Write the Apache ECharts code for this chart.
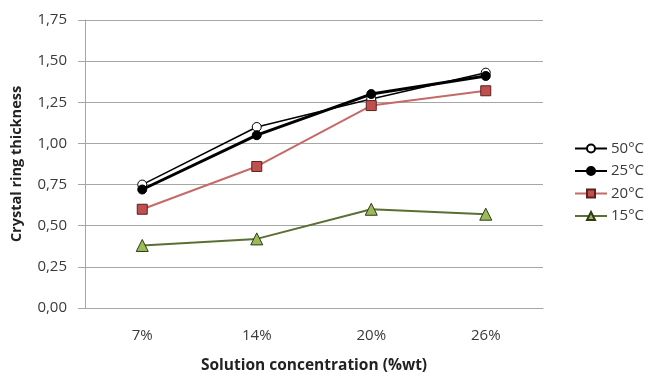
<!DOCTYPE html>
<html>
<head>
<meta charset="utf-8">
<script src="https://cdn.jsdelivr.net/npm/echarts@6/dist/echarts.min.js"></script>
<style>
  html, body { margin: 0; padding: 0; background: #fff; }
  #chart { width: 652px; height: 373px; }
</style>
</head>
<body>
<div id="chart"></div>
<script>
// Solution concentrations on the x axis
const concentrations = ['7%', '14%', '20%', '26%'];

// Crystal ring thickness per temperature
const t50 = [0.75, 1.10, 1.27, 1.43];
const t25 = [0.72, 1.05, 1.30, 1.41];
const t20 = [0.60, 0.86, 1.23, 1.32];
const t15 = [0.38, 0.42, 0.60, 0.57];

const seriesNames = ['50°C', '25°C', '20°C', '15°C'];

const FONT = '"Open Sans", sans-serif';
const GRID_COLOR = '#a6a6a6';
const TEXT_COLOR = '#3a3a3a';

const chart = echarts.init(document.getElementById('chart'), null, { renderer: 'canvas' });

function fmt(v) {
  return v.toFixed(2).replace('.', ',');
}

chart.setOption({
  animation: false,
  backgroundColor: '#ffffff',
  grid: { left: 85, right: 109, top: 20, bottom: 65, containLabel: false, outerBoundsMode: 'none' },
  legend: {
    orient: 'vertical',
    left: 569,
    top: 136,
    itemWidth: 32,
    itemHeight: 10,
    itemGap: 7.5,
    textStyle: { fontFamily: FONT, fontSize: 15, color: TEXT_COLOR, padding: [0, 0, 0, -1] },
    data: seriesNames
  },
  xAxis: {
    type: 'category',
    data: concentrations,
    boundaryGap: true,
    axisLine: { lineStyle: { color: GRID_COLOR, width: 1 } },
    axisTick: { show: false },
    axisLabel: { fontFamily: FONT, fontSize: 15, color: TEXT_COLOR, margin: 20 },
    name: 'Solution concentration (%wt)',
    nameLocation: 'middle',
    nameGap: 50,
    nameTextStyle: { fontFamily: FONT, fontSize: 15.5, fontWeight: 'bold', color: '#222' }
  },
  yAxis: {
    type: 'value',
    min: 0,
    max: 1.75,
    interval: 0.25,
    axisLine: { show: true, lineStyle: { color: GRID_COLOR, width: 1 } },
    axisTick: { show: true, length: 7, inside: false, lineStyle: { color: GRID_COLOR } },
    splitLine: { lineStyle: { color: GRID_COLOR, width: 1 } },
    axisLabel: { fontFamily: FONT, fontSize: 15, color: TEXT_COLOR, margin: 18, formatter: fmt },
    name: 'Crystal ring thickness',
    nameLocation: 'middle',
    nameGap: 61,
    nameTextStyle: { fontFamily: FONT, fontSize: 14.5, fontWeight: 'bold', color: '#222' }
  },
  series: [
    {
      name: '50°C', type: 'line', data: t50, z: 3,
      symbol: 'circle', symbolSize: 9,
      lineStyle: { color: '#000', width: 1.5 },
      itemStyle: { color: '#ffffff', borderColor: '#000', borderWidth: 1 }
    },
    {
      name: '25°C', type: 'line', data: t25, z: 4,
      symbol: 'circle', symbolSize: 9,
      lineStyle: { color: '#000', width: 3 },
      itemStyle: { color: '#000', borderColor: '#000', borderWidth: 1 }
    },
    {
      name: '20°C', type: 'line', data: t20, z: 3,
      symbol: 'rect', symbolSize: 10,
      lineStyle: { color: '#c46a68', width: 2 },
      itemStyle: { color: '#c0504d', borderColor: '#5a2120', borderWidth: 1 }
    },
    {
      name: '15°C', type: 'line', data: t15, z: 3,
      symbol: 'triangle', symbolSize: 12,
      lineStyle: { color: '#5b6e33', width: 2 },
      itemStyle: { color: '#9bbb59', borderColor: '#2f3a17', borderWidth: 1 }
    }
  ]
});
</script>
</body>
</html>
